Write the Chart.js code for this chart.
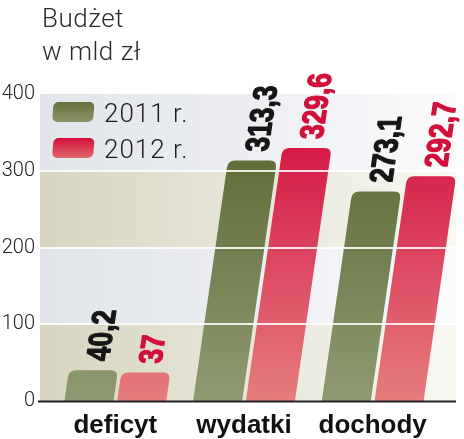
<!DOCTYPE html>
<html><head><meta charset="utf-8">
<script src="https://cdn.jsdelivr.net/npm/chart.js@4"></script>
<style>html,body{margin:0;padding:0;background:#fff}#wrap{width:464px;height:439px;position:relative}</style>
</head><body><div id="wrap"><canvas id="c" width="464" height="439"></canvas></div>
<script>
const titleLines = ['Budżet', 'w mld zł'];
const categories = ['deficyt', 'wydatki', 'dochody'];
const seriesNames = ['2011 r.', '2012 r.'];
const values2011 = [40.2, 313.3, 273.1];
const values2012 = [37, 329.6, 292.7];
const yTicks = [0, 100, 200, 300, 400];

const SLANT = 0.145;
const BAR_COLORS = [['#55622a', '#8f9a73'], ['#d1063a', '#e57d7f']];
const LABEL_COLORS = ['#161616', '#d0103a'];
const LABEL_FONT = 'bold 33px "Liberation Sans", Arial, sans-serif';
const LABEL_SQUEEZE = 0.8;
const LIGHT = '"Roboto", "Liberation Sans", sans-serif';

function fmt(v) { return String(v).replace('.', ','); }

function topRoundPath(ctx, l, r, top, base, rad) {
  ctx.beginPath();
  ctx.moveTo(l, base);
  ctx.lineTo(l, top + rad);
  ctx.quadraticCurveTo(l, top, l + rad, top);
  ctx.lineTo(r - rad, top);
  ctx.quadraticCurveTo(r, top, r, top + rad);
  ctx.lineTo(r, base);
  ctx.closePath();
}

const skewPlugin = {
  id: 'skew',
  beforeDraw(chart) {
    const { ctx, scales: { y } } = chart;
    const L = 40, R = 456;
    ctx.save();
    for (let i = 0; i < yTicks.length - 1; i++) {
      const y0 = y.getPixelForValue(yTicks[i]), y1 = y.getPixelForValue(yTicks[i + 1]);
      const g = ctx.createLinearGradient(L, 0, R, 0);
      if (i % 2 === 0) { g.addColorStop(0, '#d7d5bf'); g.addColorStop(0.5, '#e7e6d9'); g.addColorStop(1, '#f9f8f3'); }
      else { g.addColorStop(0, '#e1e4e9'); g.addColorStop(0.5, '#eceef2'); g.addColorStop(1, '#fbfbfc'); }
      ctx.fillStyle = g;
      ctx.fillRect(L, y1, R - L, y0 - y1);
    }
    ctx.restore();
  },
  beforeDatasetDraw(chart, args) {
    const ctx = chart.ctx, a = chart.chartArea;
    const c = BAR_COLORS[args.index];
    const g = ctx.createLinearGradient(0, a.top, 0, a.bottom);
    g.addColorStop(0, c[0]); g.addColorStop(1, c[1]);
    args.meta.data.forEach(el => {
      const { x, y, base, width } = el.getProps(['x', 'y', 'base', 'width'], true);
      const h = base - y;
      ctx.save();
      ctx.transform(1, 0, -SLANT, 1, SLANT * base, 0);
      topRoundPath(ctx, x - width / 2, x + width / 2, y, base, Math.min(7, h / 2, width / 2));
      ctx.fillStyle = g;
      ctx.fill();
      ctx.restore();
    });
    return false;
  },
  afterDatasetsDraw(chart) {
    const { ctx, scales: { y } } = chart;
    ctx.save();
    ctx.strokeStyle = 'rgba(255,255,255,0.85)';
    ctx.lineWidth = 2;
    yTicks.slice(1, -1).forEach(v => {
      const py = Math.round(y.getPixelForValue(v));
      ctx.beginPath(); ctx.moveTo(40, py); ctx.lineTo(456, py); ctx.stroke();
    });
    const p0 = Math.round(y.getPixelForValue(0)) + 0.5;
    ctx.strokeStyle = '#222';
    ctx.lineWidth = 2;
    ctx.beginPath(); ctx.moveTo(38, p0); ctx.lineTo(456, p0); ctx.stroke();
    ctx.font = LABEL_FONT;
    ctx.textAlign = 'left';
    ctx.textBaseline = 'alphabetic';
    ctx.lineJoin = 'round';
    chart.data.datasets.forEach((ds, di) => {
      const meta = chart.getDatasetMeta(di);
      meta.data.forEach((el, i) => {
        const { x, y: top, base } = el.getProps(['x', 'y', 'base'], true);
        const txt = fmt(ds.data[i]);
        const gap = 9;
        const topCx = x + SLANT * (base - top);
        const bx = topCx + SLANT * gap + 14;
        const by = top - gap;
        ctx.save();
        ctx.translate(bx, by);
        ctx.transform(1, 0, -SLANT, 1, 0, 0);
        ctx.rotate(-Math.PI / 2);
        ctx.scale(LABEL_SQUEEZE, 1);
        ctx.fillStyle = LABEL_COLORS[di];
        ctx.strokeStyle = LABEL_COLORS[di];
        ctx.lineWidth = 1.3;
        ctx.fillText(txt, 0, 0);
        ctx.strokeText(txt, 0, 0);
        ctx.restore();
      });
    });
    ctx.restore();
  },
  afterDraw(chart) {
    const ctx = chart.ctx;
    ctx.save();
    ctx.fillStyle = '#2a2a2a';
    ctx.font = '300 26px ' + LIGHT;
    ctx.textAlign = 'left';
    ctx.textBaseline = 'alphabetic';
    if ('letterSpacing' in ctx) ctx.letterSpacing = '0.5px';
    ctx.fillText(titleLines[0], 42, 27);
    ctx.fillText(titleLines[1], 42, 60);
    const sw = [[102, 122], [138, 158]];
    chart.data.datasets.forEach((ds, di) => {
      const [t, b] = sw[di];
      const g = ctx.createLinearGradient(0, t, 0, b);
      g.addColorStop(0, di === 0 ? '#65713a' : '#d20e3b');
      g.addColorStop(1, di === 0 ? '#8c936a' : '#e2696f');
      ctx.save();
      ctx.transform(1, 0, -0.08, 1, 0.08 * b, 0);
      ctx.beginPath();
      if (ctx.roundRect) ctx.roundRect(52, t, 41, b - t, 5); else ctx.rect(52, t, 41, b - t);
      ctx.fillStyle = g;
      ctx.fill();
      ctx.restore();
      ctx.fillStyle = '#1e1e1e';
      ctx.font = '300 26px ' + LIGHT;
      if ('letterSpacing' in ctx) ctx.letterSpacing = '1px';
      ctx.fillText(ds.label, 104, b);
    });
    ctx.restore();
  }
};

new Chart(document.getElementById('c'), {
  type: 'bar',
  data: {
    labels: categories,
    datasets: [
      { label: seriesNames[0], data: values2011, backgroundColor: BAR_COLORS[0][0] },
      { label: seriesNames[1], data: values2012, backgroundColor: BAR_COLORS[1][0] }
    ]
  },
  options: {
    responsive: false,
    devicePixelRatio: 1,
    animation: false,
    categoryPercentage: 0.82,
    barPercentage: 0.93,
    layout: { padding: { top: 94, right: 27, bottom: 0, left: 0 } },
    plugins: { legend: { display: false }, tooltip: { enabled: false }, title: { display: false } },
    scales: {
      x: {
        grid: { display: false, drawTicks: false },
        border: { display: false },
        ticks: { color: '#111', padding: 9, font: { family: '"Liberation Sans", Arial, sans-serif', weight: 'bold', size: 26 } },
        afterFit(s) { s.height = 38; }
      },
      y: {
        min: 0, max: 400,
        grid: { display: false, drawTicks: false },
        border: { display: false },
        ticks: { stepSize: 100, color: '#222', padding: 16, font: { family: LIGHT, weight: 300, size: 20 } },
        afterFit(s) { s.width = 51; },
        afterBuildTicks(s) { s.ticks = yTicks.map(v => ({ value: v })); }
      }
    }
  },
  plugins: [skewPlugin]
});
</script>
</body></html>
